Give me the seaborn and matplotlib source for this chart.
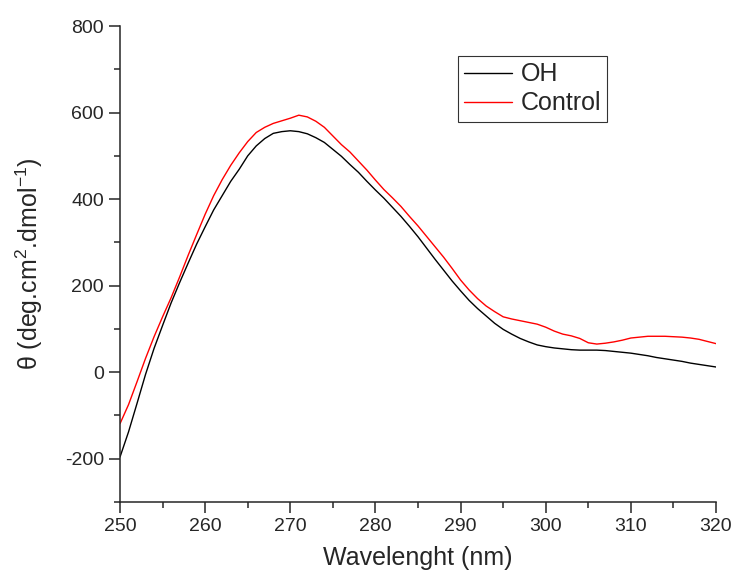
import pandas as pd
import matplotlib
matplotlib.use("Agg")
import matplotlib.pyplot as plt
import seaborn as sns
from matplotlib.ticker import MultipleLocator

# Wavelength (nm), 250..320 in 1 nm steps
wavelength = list(range(250, 321))

oh = [-196, -138, -72, -5, 55, 108, 160, 207, 252, 296,
      336, 375, 408, 441, 469, 500, 523, 540, 552, 556,
      558, 556, 551, 542, 531, 515, 499, 480, 462, 441,
      421, 402, 381, 360, 337, 313, 287, 261, 236, 211,
      188, 166, 147, 130, 113, 99, 88, 78, 70, 63,
      59, 56, 54, 52, 51, 51, 51, 50, 48, 46,
      44, 41, 38, 34, 31, 28, 25, 21, 18, 15,
      12]

control = [-119, -75, -22, 32, 82, 128, 172, 220, 270, 318,
           365, 408, 445, 478, 507, 533, 554, 566, 575, 581,
           587, 594, 590, 580, 566, 546, 526, 509, 488, 467,
           444, 422, 403, 383, 360, 338, 314, 290, 266, 240,
           213, 190, 170, 153, 140, 128, 123, 119, 115, 111,
           104, 95, 88, 84, 78, 68, 65, 67, 70, 74,
           79, 81, 83, 83, 83, 82, 81, 79, 76, 71,
           66]

series_names = ["OH", "Control"]
colors = {"OH": "black", "Control": "red"}

df = pd.concat([
    pd.DataFrame({"wl": wavelength, "theta": oh, "sample": "OH"}),
    pd.DataFrame({"wl": wavelength, "theta": control, "sample": "Control"}),
])

sns.set_style("ticks")
plt.rcParams["font.family"] = ["Liberation Sans", "DejaVu Sans"]
plt.rcParams["mathtext.fontset"] = "custom"
plt.rcParams["mathtext.rm"] = "Liberation Sans"
plt.rcParams["mathtext.it"] = "Liberation Sans:italic"
plt.rcParams["axes.unicode_minus"] = False

fig = plt.figure(figsize=(7.34, 5.79), dpi=100)
ax = fig.add_axes([0.1635, 0.133, 0.812, 0.822])

sns.lineplot(data=df, x="wl", y="theta", hue="sample", hue_order=series_names,
             palette=colors, linewidth=1.0, ax=ax, sort=False, estimator=None)

ax.set_xlim(250, 320)
ax.set_ylim(-300, 800)
ax.xaxis.set_major_locator(MultipleLocator(10))
ax.xaxis.set_minor_locator(MultipleLocator(5))
ax.yaxis.set_major_locator(MultipleLocator(200))
ax.yaxis.set_minor_locator(MultipleLocator(100))

sns.despine(ax=ax)
for s in ["left", "bottom"]:
    ax.spines[s].set_linewidth(1.1)
ax.tick_params(which="major", direction="out", length=8, width=1.1, labelsize=14)
ax.tick_params(which="minor", direction="out", length=4.3, width=1.1)

ax.set_xlabel("Wavelenght (nm)", fontsize=18, labelpad=8)
ax.set_ylabel(r"θ (deg.cm$^{2}$.dmol$^{-1}$)", fontsize=18, labelpad=14)

leg = ax.legend(loc="upper left", bbox_to_anchor=(0.567, 0.937), borderaxespad=0,
                fontsize=18, frameon=True, fancybox=False, handlelength=1.9,
                handletextpad=0.35, borderpad=0.25, labelspacing=0.2)
leg.get_frame().set_edgecolor("black")
leg.get_frame().set_linewidth(0.8)

fig.savefig("out.png", dpi=100)
